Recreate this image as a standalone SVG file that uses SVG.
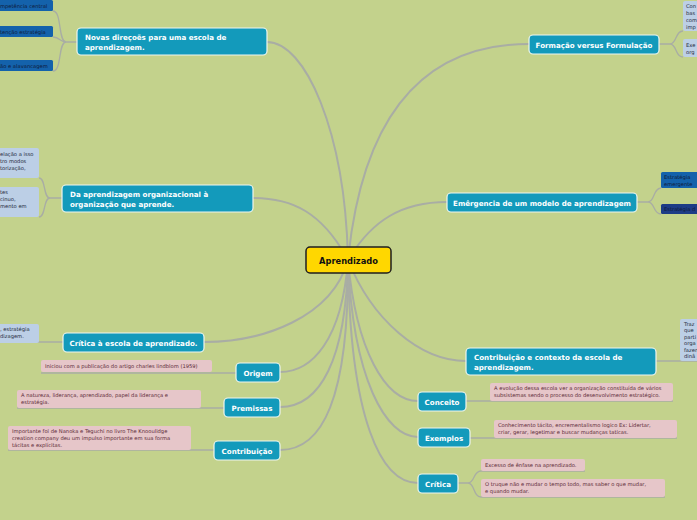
<svg xmlns="http://www.w3.org/2000/svg" width="697" height="520" viewBox="0 0 697 520">
<style>
.bg{fill:#c3d28c}
.main{stroke:#a9ada4;stroke-width:2;fill:none}
.sub{stroke:#a9ada4;stroke-width:1.3;fill:none}
.topic{fill:#139abb;stroke:#eef6f0;stroke-width:1.2}
.tt{font-family:"DejaVu Sans",Verdana,sans-serif;font-weight:bold;font-size:7.1px;fill:#ffffff}
.pink{fill:#e6c6c9}
.pt{font-family:"DejaVu Sans",Verdana,sans-serif;font-size:5.2px;fill:#5b2a36}
.lb{fill:#bccfe6}
.lt{font-family:"DejaVu Sans",Verdana,sans-serif;font-size:5.2px;fill:#1f2a3a}
.db{fill:#1462ab}
.nb{fill:#1d3c86}
.dt{font-family:"DejaVu Sans",Verdana,sans-serif;font-size:5.2px;fill:#0f1a3a}
</style>
<rect class="bg" x="0" y="0" width="697" height="520"/>
<g id="connectors">
<path class="main" d="M348,260 C345,130 305,42 267,42"/>
<path class="main" d="M348,260 C322,212 292,198 253,198"/>
<path class="main" d="M348,260 C332,318 262,342 204,342"/>
<path class="main" d="M348,260 C342,340 312,372 280,372"/>
<path class="main" d="M348,260 C346,360 320,407 280,407"/>
<path class="main" d="M348,260 C349,400 322,450 280,450"/>
<path class="main" d="M348,260 C362,120 420,44 529,44"/>
<path class="main" d="M348,260 C372,220 402,202 447,202"/>
<path class="main" d="M348,260 C372,320 420,361 466,361"/>
<path class="main" d="M348,260 C356,350 385,401 418,401"/>
<path class="main" d="M348,260 C353,380 386,437 418,437"/>
<path class="main" d="M348,260 C350,420 381,483 418,483"/>
<path class="sub" d="M77,42 L66,42 C58,42 62,11 53,11 M66,42 C60,42 60,37 53,37 M66,42 C58,42 62,71 53,71"/>
<path class="sub" d="M62,198 L50,198 C43,198 46,178 39,178 M50,198 C43,198 46,217 39,217"/>
<path class="sub" d="M63,342 L0,342"/>
<path class="sub" d="M236,373 L41,373"/>
<path class="sub" d="M224,408 L17,408"/>
<path class="sub" d="M214,450 L8,450"/>
<path class="sub" d="M659,44 L670,44 C677,44 675,31 683,31 M670,44 C677,44 675,57 683,57"/>
<path class="sub" d="M637,202 L648,202 C655,202 653,188 661,188 M648,202 C655,202 653,214 661,214"/>
<path class="sub" d="M656,361 L697,361"/>
<path class="sub" d="M466,401 L673,401"/>
<path class="sub" d="M470,438 L677,438"/>
<path class="sub" d="M458,483 L468,483 C475,483 473,471 481,471 L585,471 M468,483 C475,483 473,497 481,497 L665,497"/>
</g>
<g id="central">
<rect x="306" y="247" width="85" height="26" rx="4" fill="#ffd700" stroke="#1f1f1f" stroke-width="1.5"/>
<text x="348.5" y="263.5" text-anchor="middle" font-family="DejaVu Sans,Verdana,sans-serif" font-weight="bold" font-size="8.3" fill="#111">Aprendizado</text>
</g>
<g id="novas">
<rect class="topic" x="77" y="28" width="190" height="27" rx="4"/>
<text class="tt" x="85" y="40">Novas direçoẽs para uma escola de</text>
<text class="tt" x="85" y="49.5">aprendizagem.</text>
</g>
<g id="novas-c1"><rect class="db" x="-5" y="0" width="58" height="11" rx="1.5"/><text class="dt" x="0" y="7.5">mpetência central</text></g>
<g id="novas-c2"><rect class="db" x="-5" y="26" width="58" height="11" rx="1.5"/><text class="dt" x="0" y="33.5">tenção estratégia</text></g>
<g id="novas-c3"><rect class="db" x="-5" y="60" width="58" height="11" rx="1.5"/><text class="dt" x="0" y="67.5">ão e alavancagem</text></g>
<g id="da-aprendizagem">
<rect class="topic" x="62" y="185" width="191" height="27" rx="4"/>
<text class="tt" x="70" y="197">Da aprendizagem organizacional à</text>
<text class="tt" x="70" y="206.5">organização que aprende.</text>
</g>
<g id="da-c1"><rect class="lb" x="-5" y="148" width="44" height="30" rx="2"/>
<text class="lt" x="0" y="156">elação a isso</text><text class="lt" x="0" y="163">tro modos</text><text class="lt" x="0" y="170">torização,</text></g>
<g id="da-c2"><rect class="lb" x="-5" y="187" width="44" height="30" rx="2"/>
<text class="lt" x="0" y="194">tes</text><text class="lt" x="0" y="201">cinuo,</text><text class="lt" x="0" y="208">mento em</text></g>
<g id="critica-escola">
<rect class="topic" x="63" y="333" width="141" height="19" rx="4"/>
<text class="tt" x="133.5" y="345.5" text-anchor="middle">Crítica à escola de aprendizado.</text>
</g>
<g id="critica-c1"><rect class="lb" x="-5" y="324" width="44" height="19" rx="2"/>
<text class="lt" x="0" y="331">, estratégia</text><text class="lt" x="0" y="338">dizagem.</text></g>
<g id="origem">
<rect class="topic" x="236" y="363" width="44" height="19" rx="4"/>
<text class="tt" x="258" y="375.5" text-anchor="middle">Origem</text>
</g>
<g id="origem-c"><rect class="pink" x="41" y="360" width="171" height="12" rx="2"/>
<text class="pt" x="45" y="368">Iniciou com a publicação do artigo charles lindblom (1959)</text></g>
<g id="premissas">
<rect class="topic" x="224" y="398" width="56" height="19" rx="4"/>
<text class="tt" x="252" y="410.5" text-anchor="middle">Premissas</text>
</g>
<g id="premissas-c"><rect class="pink" x="17" y="390" width="184" height="18" rx="2"/>
<text class="pt" x="21" y="397">A natureza, liderança, aprendizado, papel da liderança e</text>
<text class="pt" x="21" y="404">estratégia.</text></g>
<g id="contribuicao">
<rect class="topic" x="214" y="441" width="66" height="19" rx="4"/>
<text class="tt" x="247" y="453.5" text-anchor="middle">Contribuição</text>
</g>
<g id="contribuicao-c"><rect class="pink" x="8" y="426" width="183" height="24" rx="2"/>
<text class="pt" x="12" y="433">Importante foi de Nanoka e Teguchi no livro The Knooulidge</text>
<text class="pt" x="12" y="440">creation company deu um impulso importante em sua forma</text>
<text class="pt" x="12" y="447">tácitas e explícitas.</text></g>
<g id="formacao">
<rect class="topic" x="529" y="35" width="130" height="19" rx="4"/>
<text class="tt" x="594" y="47.5" text-anchor="middle">Formação versus Formulação</text>
</g>
<g id="formacao-c1"><rect class="lb" x="683" y="1" width="20" height="30" rx="2"/>
<text class="lt" x="686" y="8">Con</text><text class="lt" x="686" y="15">bas</text><text class="lt" x="686" y="22">com</text><text class="lt" x="686" y="29">imp</text></g>
<g id="formacao-c2"><rect class="lb" x="683" y="39" width="20" height="18" rx="2"/>
<text class="lt" x="686" y="47">Exe</text><text class="lt" x="686" y="54">org</text></g>
<g id="emergencia">
<rect class="topic" x="447" y="193" width="190" height="19" rx="4"/>
<text class="tt" x="542" y="205.5" text-anchor="middle">Emêrgencia de um modelo de aprendizagem</text>
</g>
<g id="emergencia-c1"><rect class="db" x="661" y="172" width="40" height="16" rx="1.5"/>
<text class="dt" x="664" y="179">Estratégia</text><text class="dt" x="664" y="186">emergente</text></g>
<g id="emergencia-c2"><rect class="nb" x="661" y="204" width="40" height="10" rx="1.5"/>
<text class="dt" x="664" y="211">Estratégia d</text></g>
<g id="contexto">
<rect class="topic" x="466" y="348" width="190" height="27" rx="4"/>
<text class="tt" x="474" y="360">Contribuição e contexto da escola de</text>
<text class="tt" x="474" y="369.5">aprendizagem.</text>
</g>
<g id="contexto-c"><rect class="lb" x="680" y="319" width="22" height="42" rx="2"/>
<text class="lt" x="684" y="325.5">Traz</text><text class="lt" x="684" y="332">que</text><text class="lt" x="684" y="338.5">parti</text><text class="lt" x="684" y="345">orga</text><text class="lt" x="684" y="351.5">fazen</text><text class="lt" x="684" y="358">dinâ</text></g>
<g id="conceito">
<rect class="topic" x="418" y="392" width="48" height="19" rx="4"/>
<text class="tt" x="442" y="404.5" text-anchor="middle">Conceito</text>
</g>
<g id="conceito-c"><rect class="pink" x="490" y="383" width="183" height="18" rx="2"/>
<text class="pt" x="494" y="390">A evolução dessa escola ver a organização constituída de vários</text>
<text class="pt" x="494" y="397">subsistemas sendo o processo do desenvolvimento estratégico.</text></g>
<g id="exemplos">
<rect class="topic" x="418" y="428" width="52" height="19" rx="4"/>
<text class="tt" x="444" y="440.5" text-anchor="middle">Exemplos</text>
</g>
<g id="exemplos-c"><rect class="pink" x="494" y="420" width="183" height="18" rx="2"/>
<text class="pt" x="498" y="427">Conhecimento tácito, encrementalismo logico Ex: Lidertar,</text>
<text class="pt" x="498" y="434">criar, gerar, legetimar e buscar mudanças taticas.</text></g>
<g id="critica">
<rect class="topic" x="418" y="474" width="40" height="19" rx="4"/>
<text class="tt" x="438" y="486.5" text-anchor="middle">Crítica</text>
</g>
<g id="critica-c1b"><rect class="pink" x="481" y="459" width="104" height="12" rx="2"/>
<text class="pt" x="485" y="467">Excesso de ênfase na aprendizado.</text></g>
<g id="critica-c2b"><rect class="pink" x="481" y="479" width="184" height="18" rx="2"/>
<text class="pt" x="485" y="486">O truque não e mudar o tempo todo, mas saber o que mudar,</text>
<text class="pt" x="485" y="493">e quando mudar.</text></g>
</svg>
